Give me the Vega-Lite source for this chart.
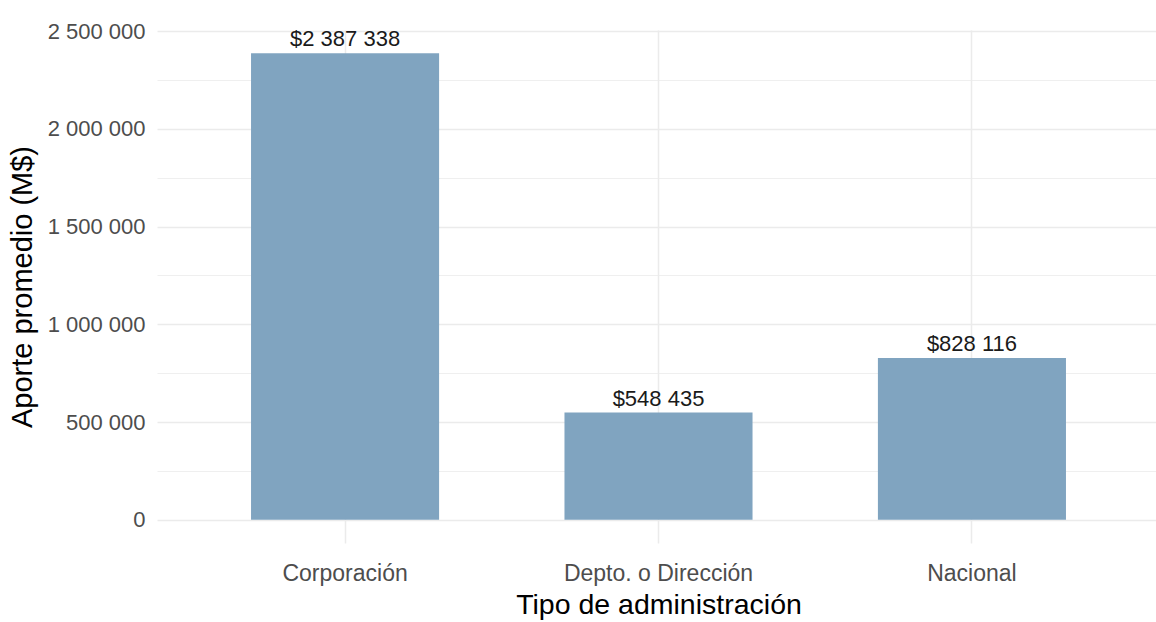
{
  "$schema": "https://vega.github.io/schema/vega-lite/v6.json",
  "autosize": {"type": "none"},
  "padding": {"left": 157, "top": 30, "right": 0, "bottom": 79},
  "width": 999,
  "height": 513,
  "background": "white",
  "config": {
    "locale": {"number": {"decimal": ",", "thousands": " ", "grouping": [3], "currency": ["$", ""]}},
    "font": "Liberation Sans",
    "view": {"stroke": null}
  },
  "data": {"values": [
    {"tipo": "Corporación", "aporte": 2387338},
    {"tipo": "Depto. o Dirección", "aporte": 548435},
    {"tipo": "Nacional", "aporte": 828116}
  ]},
  "encoding": {
    "x": {
      "field": "tipo", "type": "nominal", "sort": null,
      "scale": {"range": [0, 1003], "paddingInner": 0.4, "paddingOuter": 0.3},
      "axis": {
        "title": "Tipo de administración", "labelAngle": 0, "labelLimit": 0,
        "domain": false, "ticks": false, "grid": true, "gridColor": "#ebebeb", "gridWidth": 1.5,
        "bandPosition": 0.5,
        "labelFont": "Liberation Sans", "labelFontSize": 23, "labelColor": "#4d4d4d", "labelPadding": 19,
        "titleFont": "Liberation Sans", "titleFontSize": 28.5, "titleFontWeight": "normal", "titleColor": "#000000", "titlePadding": 5
      }
    },
    "y": {
      "field": "aporte", "type": "quantitative",
      "scale": {"domain": [-119367, 2506705], "nice": false, "zero": false},
      "axis": {
        "title": "Aporte promedio (M$)",
        "values": [0, 250000, 500000, 750000, 1000000, 1250000, 1500000, 1750000, 2000000, 2250000, 2500000],
        "labelExpr": "datum.value % 500000 === 0 ? format(datum.value, ',') : ''",
        "domain": false, "ticks": false, "grid": true, "gridColor": "#ebebeb",
        "gridWidth": {"condition": {"test": "datum.value % 500000 === 0", "value": 1.5}, "value": 0.8},
        "labelFont": "Liberation Sans", "labelFontSize": 22, "labelColor": "#4d4d4d", "labelPadding": 12,
        "titleFont": "Liberation Sans", "titleFontSize": 29, "titleFontWeight": "normal", "titleColor": "#000000", "titlePadding": 10
      }
    }
  },
  "layer": [
    {"mark": {"type": "bar", "color": "#80a4c0"}},
    {
      "mark": {"type": "text", "baseline": "alphabetic", "dy": -7, "font": "Liberation Sans", "fontSize": 22, "color": "#1a1a1a"},
      "encoding": {"text": {"field": "aporte", "type": "quantitative", "format": "$,.0f"}}
    }
  ]
}
